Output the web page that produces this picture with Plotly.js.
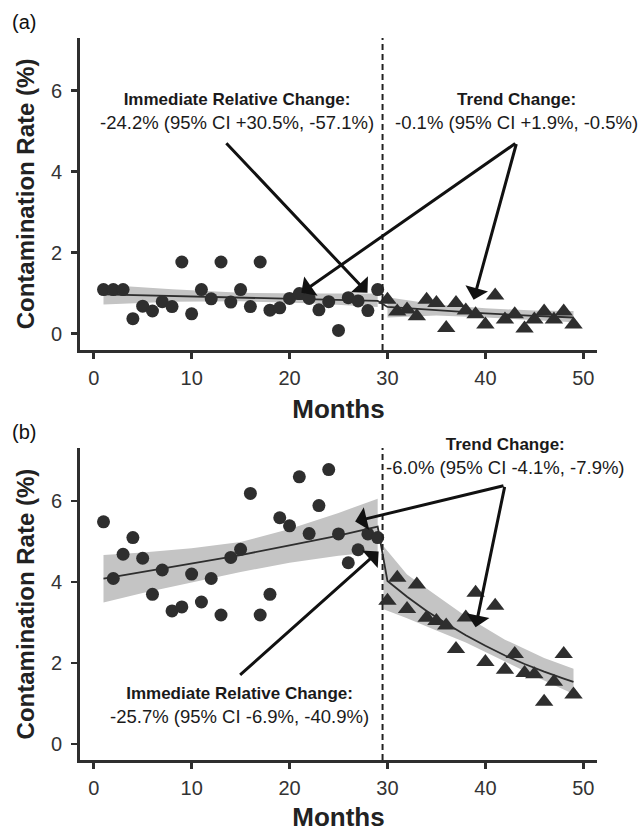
<!DOCTYPE html>
<html>
<head>
<meta charset="utf-8">
<script src="https://cdn.plot.ly/plotly-3.0.1.min.js"></script>
<style>html,body{margin:0;padding:0;background:#fff;}#chart{width:638px;height:832px;}</style>
</head>
<body>
<div id="chart"></div>
<script>
// ---- data ----
const monthsPre  = [1,2,3,4,5,6,7,8,9,10,11,12,13,14,15,16,17,18,19,20,21,22,23,24,25,26,27,28,29];
const monthsPost = [30,31,32,33,34,35,36,37,38,39,40,41,42,43,44,45,46,47,48,49];

// Panel (a) observed rates (%)
const ratePreA  = [1.09,1.09,1.09,0.37,0.68,0.56,0.79,0.67,1.77,0.49,1.09,0.86,1.77,0.78,1.09,0.67,1.77,0.58,0.64,0.87,0.99,0.87,0.59,0.79,0.08,0.89,0.81,0.57,1.09];
const ratePostA = [0.84,0.55,0.60,0.43,0.84,0.76,0.14,0.76,0.57,0.48,0.23,0.94,0.35,0.48,0.13,0.35,0.55,0.35,0.55,0.23];

// Panel (a) fitted line and 95% CI band
const fitXA   = [1,8,15,22,29,30,35,40,45,49];
const fitYA   = [0.97,0.93,0.89,0.85,0.81,0.66,0.58,0.50,0.44,0.40];
const bandPreXA = [1,8,15,22,29];
const bandPreLoA = [0.72,0.79,0.80,0.75,0.66];
const bandPreHiA = [1.21,1.10,1.01,0.99,0.99];
const bandPostXA = [30,35,40,45,49];
const bandPostLoA = [0.40,0.45,0.40,0.34,0.28];
const bandPostHiA = [0.90,0.72,0.63,0.57,0.56];

// Panel (b) observed rates (%)
const ratePreB  = [5.48,4.08,4.68,5.09,4.58,3.69,4.29,3.28,3.38,4.19,3.50,4.08,3.18,4.60,4.80,6.18,3.18,3.69,5.58,5.38,6.59,5.19,5.88,6.77,5.18,4.47,4.79,5.18,5.09];
const ratePostB = [3.53,4.10,3.33,3.93,3.11,3.03,2.92,2.34,3.12,3.73,2.02,3.41,1.83,2.22,1.75,1.72,1.04,1.53,2.22,1.22];

// Panel (b) fitted line and 95% CI band
const fitXB = [1,5,10,15,20,25,29,30,32,34,36,38,40,42,44,46,48,49];
const fitYB = [4.08,4.25,4.45,4.66,4.90,5.14,5.36,4.02,3.63,3.28,2.97,2.68,2.42,2.18,1.97,1.78,1.61,1.53];
const bandPreXB  = [1,5,10,15,20,25,29];
const bandPreLoB = [3.49,3.72,3.98,4.24,4.47,4.64,4.74];
const bandPreHiB = [4.66,4.72,4.83,4.98,5.30,5.70,6.05];
const bandPostXB  = [29.6,32,35,38,42,46,49];
const bandPostLoB = [3.32,3.10,2.80,2.50,2.03,1.56,1.23];
const bandPostHiB = [4.88,4.18,3.66,3.15,2.57,2.12,1.85];

const xTicks = [0,10,20,30,40,50];
const yTicks = [0,2,4,6];

// ---- styles ----
const FONT = '"Liberation Sans", Arial, Helvetica, sans-serif';
const DARK = '#2e2e2e';
const BAND = '#c4c4c4';

function band(x, lo, hi, xa, ya) {
  return [
    {x: x, y: lo, xaxis: xa, yaxis: ya, mode: 'lines', line: {width: 0, color: BAND}, hoverinfo: 'skip', showlegend: false},
    {x: x, y: hi, xaxis: xa, yaxis: ya, mode: 'lines', line: {width: 0, color: BAND}, fill: 'tonexty', fillcolor: BAND, hoverinfo: 'skip', showlegend: false}
  ];
}
function fitLine(x, y, xa, ya) {
  return {x: x, y: y, xaxis: xa, yaxis: ya, mode: 'lines', line: {color: DARK, width: 1.8}, showlegend: false};
}
function pts(x, y, sym, xa, ya) {
  return {x: x, y: y, xaxis: xa, yaxis: ya, mode: 'markers', showlegend: false,
    marker: {symbol: sym, size: sym === 'circle' ? 13 : 16, color: DARK, line: {width: 0}}};
}

const traces = [].concat(
  band(bandPreXA, bandPreLoA, bandPreHiA, 'x', 'y'),
  band(bandPostXA, bandPostLoA, bandPostHiA, 'x', 'y'),
  [fitLine(fitXA, fitYA, 'x', 'y'), pts(monthsPre, ratePreA, 'circle', 'x', 'y'), pts(monthsPost, ratePostA, 'triangle-up', 'x', 'y')],
  band(bandPreXB, bandPreLoB, bandPreHiB, 'x2', 'y2'),
  band(bandPostXB, bandPostLoB, bandPostHiB, 'x2', 'y2'),
  [fitLine(fitXB, fitYB, 'x2', 'y2'), pts(monthsPre, ratePreB, 'circle', 'x2', 'y2'), pts(monthsPost, ratePostB, 'triangle-up', 'x2', 'y2')]
);

function xAxis(anchor) {
  return {
    anchor: anchor, domain: [0, 1], range: [-1.4, 51.4], tickvals: xTicks,
    showgrid: false, zeroline: false, showline: true, linecolor: DARK, linewidth: 3,
    ticks: 'outside', ticklen: 6, tickwidth: 2.5, tickcolor: DARK,
    tickfont: {family: FONT, size: 20, color: '#333'}, ticklabelstandoff: 2,
    title: {text: '<b>Months</b>', font: {family: FONT, size: 26, color: '#222'}, standoff: 12}
  };
}
function yAxis(anchor, domain) {
  return {
    anchor: anchor, domain: domain, range: [-0.4, 7.3], tickvals: yTicks,
    showgrid: false, zeroline: false, showline: true, linecolor: DARK, linewidth: 3,
    ticks: 'outside', ticklen: 6, tickwidth: 2.5, tickcolor: DARK,
    tickfont: {family: FONT, size: 20, color: '#333'}, ticklabelstandoff: 5,
    title: {text: '<b>Contamination Rate (%)</b>', font: {family: FONT, size: 24, color: '#222'}, standoff: 10}
  };
}

function arrow(xa, ya, x, y, ax, ay) {
  return {xref: xa, yref: ya, axref: xa, ayref: ya, x: x, y: y, ax: ax, ay: ay,
    text: '', showarrow: true, arrowhead: 1, arrowsize: 1.3, arrowwidth: 3, arrowcolor: '#111', standoff: 0, startstandoff: 0};
}
function label(xa, ya, x, y, head, body) {
  return {xref: xa, yref: ya, x: x, y: y, showarrow: false, xanchor: 'center', yanchor: 'middle', align: 'center',
    text: '<b><span style="font-size:17px">' + head + '</span></b><br>' + body, font: {family: FONT, size: 18.5, color: '#1a1a1a'}};
}

const layout = {
  width: 638, height: 832,
  margin: {l: 80, r: 41, t: 38, b: 72},
  paper_bgcolor: '#fff', plot_bgcolor: '#fff',
  showlegend: false,
  xaxis: xAxis('y'),
  yaxis: yAxis('x', [0.568, 1]),
  xaxis2: xAxis('y2'),
  yaxis2: yAxis('x2', [0, 0.432]),
  shapes: [
    {type: 'line', xref: 'x', yref: 'y domain', x0: 29.5, x1: 29.5, y0: 0, y1: 1, layer: 'above', line: {color: '#222', width: 2, dash: '6px,4px'}},
    {type: 'line', xref: 'x2', yref: 'y2 domain', x0: 29.5, x1: 29.5, y0: 0, y1: 1, layer: 'above', line: {color: '#222', width: 2, dash: '6px,4px'}}
  ],
  annotations: [
    {xref: 'paper', yref: 'paper', x: -0.136, y: 1.022, xanchor: 'left', yanchor: 'middle', showarrow: false, text: '(a)', font: {family: FONT, size: 20, color: '#111'}},
    {xref: 'paper', yref: 'paper', x: -0.136, y: 0.454, xanchor: 'left', yanchor: 'middle', showarrow: false, text: '(b)', font: {family: FONT, size: 20, color: '#111'}},
    label('x', 'y', 14.6, 5.48, 'Immediate Relative Change:', '-24.2% (95% CI +30.5%, -57.1%)'),
    label('x', 'y', 43.2, 5.48, 'Trend Change:', '-0.1% (95% CI +1.9%, -0.5%)'),
    arrow('x', 'y', 27.96, 1.01, 13.4, 4.74),
    arrow('x', 'y', 21.2, 1.01, 43.2, 4.72),
    arrow('x', 'y', 38.8, 0.84, 43.2, 4.72),
    label('x2', 'y2', 42.1, 7.1, 'Trend Change:', '-6.0% (95% CI -4.1%, -7.9%)'),
    label('x2', 'y2', 14.9, 0.94, 'Immediate Relative Change:', '-25.7% (95% CI -6.9%, -40.9%)'),
    arrow('x2', 'y2', 26.7, 5.49, 42.0, 6.38),
    arrow('x2', 'y2', 39.0, 2.88, 42.0, 6.38),
    arrow('x2', 'y2', 29.1, 4.75, 14.8, 1.67)
  ]
};

Plotly.newPlot('chart', traces, layout, {staticPlot: true, displayModeBar: false});
</script>
</body>
</html>
